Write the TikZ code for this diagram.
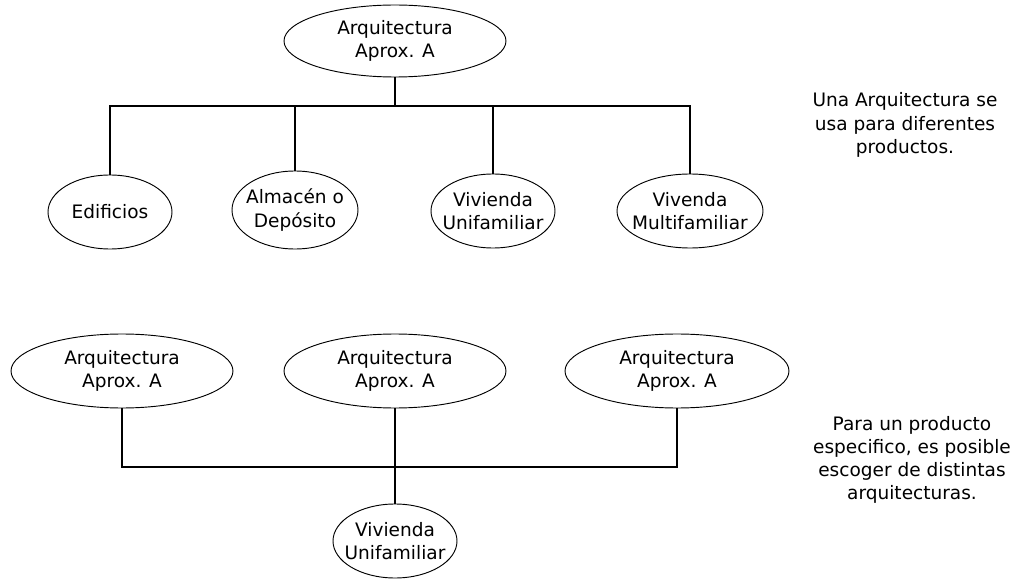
\documentclass[tikz,border=0pt]{standalone}
\usepackage{fontspec}
\setmainfont{DejaVu Sans}
\usetikzlibrary{shapes.geometric}
\begin{document}
\begin{tikzpicture}[x=0.75pt,y=-0.75pt,
  txt/.style={font={\fontsize{13.9}{17.4}\selectfont},align=center},
  oval/.style={txt,ellipse,draw,line width=0.7pt,inner sep=-5pt},
  conn/.style={line width=1.4pt}]
\useasboundingbox (0,0) rectangle (1015,581);
% top group
\node[oval,minimum width=166.5pt,minimum height=54pt] (T) at (395,41) {Arquitectura\\Aprox. A};
\node[oval,minimum width=93pt,minimum height=55.5pt] (E) at (110,212) {Edificios};
\node[oval,minimum width=94.5pt,minimum height=58.5pt] (A) at (295,210) {Almacén o\\Depósito};
\node[oval,minimum width=93pt,minimum height=55.5pt] (VU) at (493,211) {Vivienda\\Unifamiliar};
\node[oval,minimum width=109.5pt,minimum height=55.5pt] (VM) at (690,211) {Vivenda\\Multifamiliar};
\coordinate (barT) at (395,106);
\draw[conn] (T.south) -- (barT);
\draw[conn] (E.north) |- (barT) -| (VM.north);
\draw[conn] (A.north) -- (A.north |- barT);
\draw[conn] (VU.north) -- (VU.north |- barT);
\node[txt] (t1) at (905,125) {Una Arquitectura se\\usa para diferentes\\productos.};
% bottom group
\node[oval,minimum width=166.5pt,minimum height=55.5pt] (B1) at (122,371) {Arquitectura\\Aprox. A};
\node[oval,minimum width=166.5pt,minimum height=55.5pt] (B2) at (395,371) {Arquitectura\\Aprox. A};
\node[oval,minimum width=168pt,minimum height=55.5pt] (B3) at (677,371) {Arquitectura\\Aprox. A};
\node[oval,minimum width=93pt,minimum height=55.5pt] (V) at (395,541) {Vivienda\\Unifamiliar};
\coordinate (barB) at (395,467);
\draw[conn] (B1.south) |- (barB) -| (B3.south);
\draw[conn] (B2.south) -- (V.north);
\node[txt] (t2) at (912,460) {Para un producto\\especifico, es posible\\escoger de distintas\\arquitecturas.};
\end{tikzpicture}
\end{document}
